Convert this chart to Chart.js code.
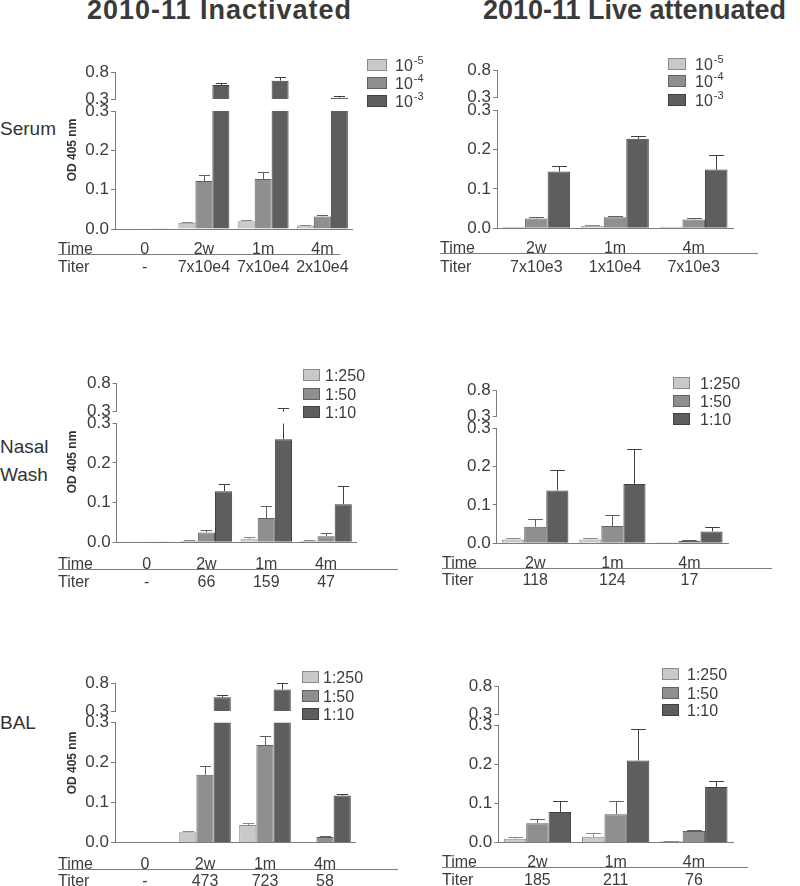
<!DOCTYPE html>
<html><head><meta charset="utf-8">
<script src="https://cdn.jsdelivr.net/npm/chart.js@4.4.0/dist/chart.umd.min.js"></script>
<style>
html,body{margin:0;padding:0;background:#fff;}
#page{position:relative;width:800px;height:886px;overflow:hidden;background:#fff;font-family:'Liberation Sans',Arial,Helvetica,sans-serif;}
canvas{position:absolute;}
.title{position:absolute;font-weight:bold;font-size:27px;line-height:27px;color:#3a3a3a;white-space:nowrap;text-align:center;}
.row{position:absolute;left:0;font-size:19px;line-height:19px;color:#333;white-space:nowrap;}
</style></head><body><div id="page">
<div class="title" style="left:39.5px;width:360px;top:-3px;letter-spacing:1px">2010-11 Inactivated</div>
<div class="title" style="left:454.5px;width:360px;top:-3px">2010-11 Live attenuated</div>
<div class="row" style="top:119px">Serum</div>
<div class="row" style="top:437px">Nasal</div>
<div class="row" style="top:465px">Wash</div>
<div class="row" style="top:713px">BAL</div>
</div>
<script>
// ---------------- data ----------------
const dilutionSerum = ['10^-5', '10^-4', '10^-3'];
const dilutionFluid = ['1:250', '1:50', '1:10'];
const lowerTicks = [0, 0.1, 0.2, 0.3];
const upperTicks = [0.3, 0.8];

const timesInact = ['0', '2w', '1m', '4m'];
const timesLive = ['2w', '1m', '4m'];

// Serum, inactivated
const serumInactTiter = ['-', '7x10e4', '7x10e4', '2x10e4'];
const serumInactMean = [[0.001, 0.016, 0.020, 0.009], [0.002, 0.122, 0.127, 0.032], [0.002, 0.56, 0.64, 0.325]];
const serumInactErr  = [[0.001, 0.019, 0.023, 0.011], [0.002, 0.137, 0.144, 0.036], [0.002, 0.60, 0.71, 0.35]];
// Serum, live attenuated
const serumLiveTiter = ['7x10e3', '1x10e4', '7x10e3'];
const serumLiveMean = [[0.003, 0.006, 0.004], [0.025, 0.028, 0.022], [0.144, 0.227, 0.149]];
const serumLiveErr  = [[0.003, 0.008, 0.004], [0.029, 0.032, 0.026], [0.159, 0.235, 0.186]];
// Nasal wash, inactivated
const nasalInactTiter = ['-', '66', '159', '47'];
const nasalInactMean = [[0.001, 0.003, 0.008, 0.003], [0.002, 0.025, 0.061, 0.015], [0.002, 0.129, 0.260, 0.096]];
const nasalInactErr  = [[0.001, 0.005, 0.013, 0.005], [0.002, 0.030, 0.091, 0.023], [0.002, 0.148, 0.37, 0.142]];
// Nasal wash, live attenuated
const nasalLiveTiter = ['118', '124', '17'];
const nasalLiveMean = [[0.010, 0.010, 0.003], [0.043, 0.045, 0.006], [0.138, 0.155, 0.031]];
const nasalLiveErr  = [[0.015, 0.015, 0.003], [0.063, 0.073, 0.008], [0.191, 0.247, 0.042]];
// BAL, inactivated
const balInactTiter = ['-', '473', '723', '58'];
const balInactMean = [[0.000, 0.026, 0.044, 0.002], [0.000, 0.170, 0.244, 0.014], [0.000, 0.547, 0.69, 0.118]];
const balInactErr  = [[0.000, 0.030, 0.049, 0.002], [0.000, 0.191, 0.268, 0.016], [0.000, 0.583, 0.81, 0.122]];
// BAL, live attenuated
const balLiveTiter = ['185', '211', '76'];
const balLiveMean = [[0.010, 0.015, 0.004], [0.050, 0.073, 0.030], [0.079, 0.211, 0.143]];
const balLiveErr  = [[0.014, 0.025, 0.005], [0.062, 0.108, 0.032], [0.107, 0.292, 0.157]];

// ---------------- styling / layout ----------------
const FONT = "'Liberation Sans', Arial, Helvetica, sans-serif";
const AXIS = '#7c7c7c', TXT = '#3c3c3c';
const FILLS = ['#c9c9c9', '#8f8f8f', '#5e5e5e'];
const EDGES = ['#8a8a8a', '#606060', '#404040'];
const AXW = 40, CUT = 0.3;

const panels = [
  { left: 0, width: 450, top: 40, height: 240, axisX: 115, xEnd: 352, up08: 72, up03: 99, lo03: 111, lo00: 229,
    labels: timesInact, titers: serumInactTiter, mean: serumInactMean, err: serumInactErr, names: dilutionSerum,
    leg: { bx: 367, bw: 20, tx: 395, ys: [65, 83, 101] },
    rows: { rowX: 58, timeBase: 254, titerBase: 272, lineY: 254.5, lineX1: 340, odY: 150 } },
  { left: 400, width: 400, top: 40, height: 240, axisX: 497, xEnd: 733, up08: 70, up03: 97.7, lo03: 110, lo00: 228.3,
    labels: timesLive, titers: serumLiveTiter, mean: serumLiveMean, err: serumLiveErr, names: dilutionSerum,
    leg: { bx: 668, bw: 18, tx: 695, ys: [63.5, 81, 100] },
    rows: { rowX: 440, timeBase: 253, titerBase: 272, lineY: 253.5, lineX1: 758 } },
  { left: 0, width: 450, top: 360, height: 235, axisX: 116.7, xEnd: 356, up08: 383.3, up03: 411.7, lo03: 423.3, lo00: 542.3,
    labels: timesInact, titers: nasalInactTiter, mean: nasalInactMean, err: nasalInactErr, names: dilutionFluid,
    leg: { bx: 303, bw: 17, tx: 325, ys: [375, 393.5, 412] },
    rows: { rowX: 58, timeBase: 569, titerBase: 587, lineY: 569.5, lineX1: 398, odY: 462 } },
  { left: 400, width: 400, top: 360, height: 235, axisX: 496.7, xEnd: 728, up08: 390, up03: 416.7, lo03: 428.3, lo00: 543.3,
    labels: timesLive, titers: nasalLiveTiter, mean: nasalLiveMean, err: nasalLiveErr, names: dilutionFluid,
    leg: { bx: 673, bw: 17, tx: 700, ys: [383, 400.5, 419] },
    rows: { rowX: 442, timeBase: 568, titerBase: 585, lineY: 568.5, lineX1: 772 } },
  { left: 0, width: 450, top: 660, height: 226, axisX: 115, xEnd: 355, up08: 683.3, up03: 711, lo03: 722.7, lo00: 842.7,
    labels: timesInact, titers: balInactTiter, mean: balInactMean, err: balInactErr, names: dilutionFluid,
    leg: { bx: 302, bw: 17, tx: 323, ys: [677, 695.5, 714] },
    rows: { rowX: 58, timeBase: 869, titerBase: 886, lineY: 869.5, lineX1: 398, odY: 763 } },
  { left: 400, width: 400, top: 660, height: 226, axisX: 498.3, xEnd: 733, up08: 686.7, up03: 714, lo03: 725.7, lo00: 842.7,
    labels: timesLive, titers: balLiveTiter, mean: balLiveMean, err: balLiveErr, names: dilutionFluid,
    leg: { bx: 662, bw: 17, tx: 687, ys: [673.5, 692.5, 710] },
    rows: { rowX: 442, timeBase: 867, titerBase: 885, lineY: 867.5, lineX1: 748 } }
];

// ---------------- plugins ----------------
const errPlugin = {
  id: 'errBars',
  afterDatasetsDraw(chart, args, o) {
    const ctx = chart.ctx, y = chart.scales.y;
    chart.data.datasets.forEach((ds, di) => {
      const meta = chart.getDatasetMeta(di);
      meta.data.forEach((bar, i) => {
        const v = ds.data[i], e = ds.errTop[i];
        if (e == null || e <= v) return;
        let from, to, cap;
        if (o.part === 'lower') {
          if (v >= CUT) return;
          from = v; to = Math.min(e, CUT); cap = e <= CUT;
        } else {
          if (e <= CUT) return;
          from = Math.max(v, CUT); to = e; cap = true;
        }
        const x = Math.round(bar.x) + 0.5, w = bar.width;
        const y0 = y.getPixelForValue(from), y1 = Math.round(y.getPixelForValue(to)) + 0.5;
        ctx.save();
        ctx.strokeStyle = ds.borderColor; ctx.lineWidth = 1;
        ctx.beginPath(); ctx.moveTo(x, y0); ctx.lineTo(x, y1);
        if (cap) { ctx.moveTo(x - w * 0.33, y1); ctx.lineTo(x + w * 0.33, y1); }
        ctx.stroke(); ctx.restore();
      });
    });
  }
};

const legendPlugin = {
  id: 'boxLegend',
  afterDraw(chart, args, o) {
    const ctx = chart.ctx;
    ctx.save();
    chart.data.datasets.forEach((ds, i) => {
      const cy = o.ys[i], by = Math.round(cy - 6);
      ctx.fillStyle = ds.backgroundColor; ctx.fillRect(o.bx, by, o.bw, 12);
      ctx.strokeStyle = ds.borderColor; ctx.lineWidth = 1; ctx.strokeRect(o.bx + 0.5, by + 0.5, o.bw - 1, 11);
      const parts = ds.label.split('^');
      ctx.fillStyle = TXT; ctx.textAlign = 'left'; ctx.textBaseline = 'alphabetic';
      ctx.font = `16px ${FONT}`;
      ctx.fillText(parts[0], o.tx, cy + 6);
      if (parts[1]) {
        const w = ctx.measureText(parts[0]).width;
        ctx.font = `11px ${FONT}`;
        ctx.fillText(parts[1], o.tx + w + 1, cy - 1);
      }
    });
    ctx.restore();
  }
};

const rowsPlugin = {
  id: 'rows',
  afterDraw(chart, args, o) {
    const ctx = chart.ctx, xs = chart.scales.x;
    ctx.save();
    ctx.fillStyle = TXT; ctx.font = `16px ${FONT}`; ctx.textBaseline = 'alphabetic';
    ctx.textAlign = 'left';
    ctx.fillText('Time', o.rowX, o.timeBase);
    ctx.fillText('Titer', o.rowX, o.titerBase);
    ctx.textAlign = 'center';
    chart.data.labels.forEach((lab, i) => {
      const px = xs.getPixelForValue(i);
      ctx.fillText(lab, px, o.timeBase);
      ctx.fillText(o.titers[i], px, o.titerBase);
    });
    ctx.strokeStyle = AXIS; ctx.lineWidth = 1;
    ctx.beginPath(); ctx.moveTo(o.rowX, o.lineY); ctx.lineTo(o.lineX1, o.lineY); ctx.stroke();
    if (o.odY != null) {
      ctx.translate(o.odX, o.odY); ctx.rotate(-Math.PI / 2);
      ctx.font = `bold 12px ${FONT}`; ctx.fillStyle = '#333';
      ctx.textAlign = 'center'; ctx.textBaseline = 'middle';
      ctx.fillText('OD 405 nm', 0, 0);
    }
    ctx.restore();
  }
};

// ---------------- build ----------------
const page = document.getElementById('page');

function makeChart(p, part) {
  const c = document.createElement('canvas');
  c.width = p.width; c.height = p.height;
  c.style.left = p.left + 'px'; c.style.top = p.top + 'px';
  c.style.width = p.width + 'px'; c.style.height = p.height + 'px';
  page.appendChild(c);
  const upper = part === 'upper';
  const padTop = (upper ? p.up08 : p.lo03) - p.top;
  const padBottom = p.top + p.height - (upper ? p.up03 : p.lo00);
  const pluginOpts = { legend: { display: false }, tooltip: { enabled: false }, errBars: { part } };
  if (upper) {
    pluginOpts.boxLegend = { bx: p.leg.bx - p.left, bw: p.leg.bw, tx: p.leg.tx - p.left, ys: p.leg.ys.map(v => v - p.top) };
  } else {
    const r = p.rows;
    pluginOpts.rows = {
      rowX: r.rowX - p.left, timeBase: r.timeBase - p.top, titerBase: r.titerBase - p.top,
      lineY: r.lineY - p.top, lineX1: r.lineX1 - p.left, titers: p.titers,
      odX: 72.5 - p.left, odY: r.odY != null ? r.odY - p.top : null
    };
  }
  return new Chart(c, {
    type: 'bar',
    data: {
      labels: p.labels,
      datasets: p.mean.map((m, k) => ({
        label: p.names[k], data: m, errTop: p.err[k],
        backgroundColor: FILLS[k], borderColor: EDGES[k], borderWidth: 1, borderSkipped: 'start',
        clip: 0, categoryPercentage: 0.86, barPercentage: 1
      }))
    },
    options: {
      responsive: false, animation: false, events: [], devicePixelRatio: 1,
      layout: { padding: { left: p.axisX - p.left - AXW, right: p.left + p.width - p.xEnd, top: padTop, bottom: padBottom } },
      plugins: pluginOpts,
      scales: {
        x: {
          display: !upper,
          grid: { display: false, drawTicks: false },
          ticks: { display: false },
          border: { display: true, color: AXIS, width: 1 },
          afterFit: s => { s.height = 0; }
        },
        y: {
          min: upper ? 0.3 : 0, max: upper ? 0.8 : 0.3,
          afterBuildTicks: s => { s.ticks = (upper ? upperTicks : lowerTicks).map(v => ({ value: v })); },
          ticks: { color: TXT, font: { family: FONT, size: 17 }, padding: 2, callback: v => Number(v).toFixed(1) },
          grid: { drawOnChartArea: false, drawTicks: true, tickLength: 4, color: AXIS },
          border: { color: AXIS, width: 1 },
          afterFit: s => { s.width = AXW; }
        }
      }
    },
    plugins: upper ? [errPlugin, legendPlugin] : [errPlugin, rowsPlugin]
  });
}

panels.forEach(p => { makeChart(p, 'lower'); makeChart(p, 'upper'); });
</script>
</body></html>
